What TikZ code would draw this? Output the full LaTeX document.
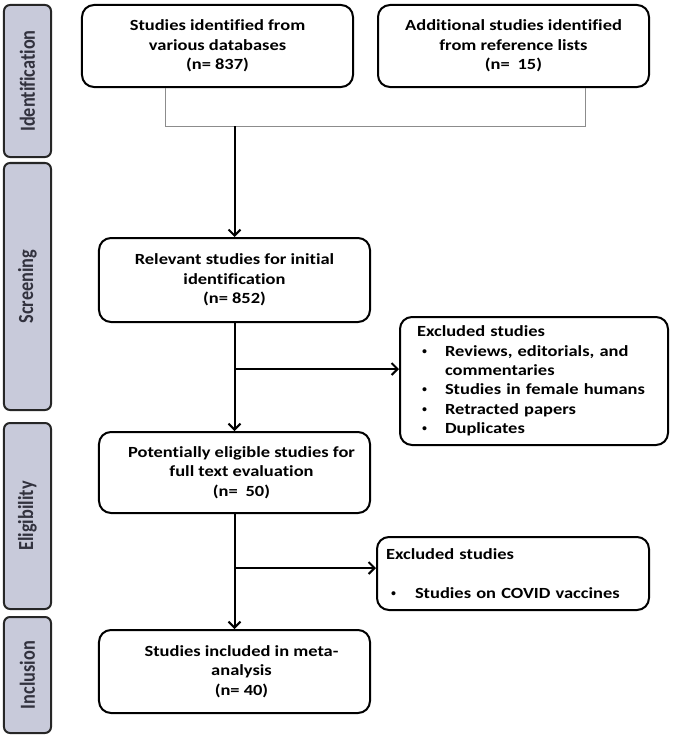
\documentclass[tikz,border=0pt]{standalone}
\usepackage{fontspec}
\newfontfamily\boxfont{Carlito}[FakeStretch=1.19,Ligatures=NoCommon]
\newfontfamily\sidefont{Carlito}[FakeStretch=0.85,Ligatures=NoCommon]
\usetikzlibrary{arrows.meta}
\definecolor{barfill}{RGB}{200,202,218}
\definecolor{bartext}{RGB}{50,50,62}
\definecolor{bracketgray}{RGB}{140,140,140}
\newcommand{\bul}[1]{\hspace*{1bp}\makebox[#1][l]{\rmfamily\mdseries\fontsize{18bp}{18bp}\selectfont\textbullet}}
\begin{document}
\begin{tikzpicture}[x=1bp,y=-1bp,
  flowbox/.style={draw=black,line width=2bp,rounded corners=12bp,fill=white,
    font=\boxfont\fontsize{15.5bp}{19.3bp}\selectfont\bfseries,align=center,inner sep=0pt},
  boxtext/.style={font=\boxfont\fontsize{15.5bp}{19.3bp}\selectfont\bfseries,align=center,inner sep=0pt},
  sidebar/.style={draw=black!85,line width=2bp,rounded corners=6bp,fill=barfill,
    minimum width=47bp,inner sep=0pt},
  sidelabel/.style={rotate=90,text=bartext,font=\sidefont\fontsize{21.5bp}{24bp}\selectfont\bfseries},
  conn/.style={line width=2bp,draw=black},
  arr/.style={conn,-{Straight Barb[length=6bp,width=12bp,line width=2bp]}}
]
\useasboundingbox (0,0) rectangle (674,736);
% side bars
\node[sidebar,minimum height=152bp] (sbI) at (27.5,81) {};
\node[sidelabel] (lI) at (sbI.center) {Identification};
\node[sidebar,minimum height=247bp] (sbS) at (27.5,286.5) {};
\node[sidelabel] (lS) at (sbS.center) {Screening};
\node[sidebar,minimum height=186bp] (sbE) at (27.5,516) {};
\node[sidelabel] (lE) at (sbE.center) {Eligibility};
\node[sidebar,minimum height=116bp] (sbN) at (27.5,675) {};
\node[sidelabel] (lN) at (sbN.center) {Inclusion};
% boxes
\node[flowbox,minimum width=271bp,minimum height=82bp] (A) at (217.5,46)
  {Studies identified from\\various databases\\(n= 837)};
\node[flowbox,minimum width=271bp,minimum height=82bp] (B) at (513.5,46)
  {Additional studies identified\\from reference lists\\(n=\hspace{0.5em}15)};
\node[flowbox,minimum width=271bp,minimum height=84bp] (C) at (234.5,280)
  {Relevant studies for initial\\identification\\(n= 852)};
\node[flowbox,minimum width=271bp,minimum height=81bp] (D) at (234.5,472.5) {};
\node[boxtext] (Dt) at ([xshift=7bp]D.center)
  {Potentially eligible studies for\\full text evaluation\\(n=\hspace{0.5em}50)};
\node[flowbox,minimum width=271bp,minimum height=83bp] (G) at (234.5,671.5) {};
\node[boxtext] (Gt) at ([xshift=7bp]G.center)
  {Studies included in meta-\\analysis\\(n= 40)};
\node[flowbox,align=left,text width=234bp,inner xsep=17bp,minimum height=128bp] (E) at (534,381)
  {Excluded studies\\
   \bul{27bp}Reviews, editorials, and\\
   \hspace*{28bp}commentaries\\
   \bul{27bp}Studies in female humans\\
   \bul{27bp}Retracted papers\\
   \bul{27bp}Duplicates};
\node[flowbox,align=left,text width=254bp,inner xsep=9bp,minimum height=73bp] (F) at (513,573.5)
  {Excluded studies\\[19.3bp]
   \bul{28bp}Studies on COVID vaccines};
% bracket
\coordinate (bl) at (165,126);
\coordinate (br) at (585,126);
\coordinate (m) at (234.5,126);
\draw[bracketgray,line width=1bp] (A.south -| bl) -- (bl) -- (br) -- (B.south -| br);
\draw[arr] (m) -- (C.north);
% C -> D and exclusions
\draw[arr] (C.south) -- (D.north);
\coordinate (j1) at (234.5,369);
\draw[arr] (j1) -- (E.west |- j1);
\draw[arr] (D.south) -- (G.north);
\coordinate (j2) at (234.5,568);
\draw[arr] (j2) -- (F.west |- j2);
\end{tikzpicture}
\end{document}
